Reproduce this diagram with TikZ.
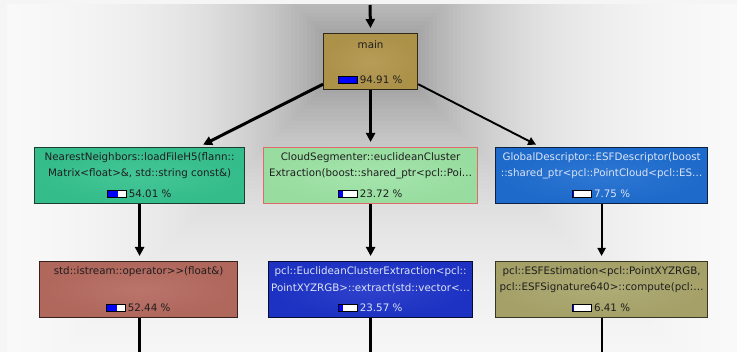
\documentclass[tikz,border=0pt]{standalone}
\usepackage{fontspec}
\setmainfont{DejaVu Sans}
\usetikzlibrary{arrows.meta,calc}
\definecolor{outerbg}{HTML}{F5F5F5}
\definecolor{mainfill}{HTML}{B1954B}
\definecolor{mainline}{HTML}{2E2616}
\definecolor{nnfill}{HTML}{36C28F}
\definecolor{nnline}{HTML}{1A3F32}
\definecolor{cloudfill}{HTML}{9DE3A5}
\definecolor{cloudline}{HTML}{E06A6A}
\definecolor{globfill}{HTML}{1E6DD0}
\definecolor{globline}{HTML}{0E2240}
\definecolor{istrfill}{HTML}{B56A5F}
\definecolor{istrline}{HTML}{38201C}
\definecolor{pclfill}{HTML}{1E33C8}
\definecolor{pclline}{HTML}{080C30}
\definecolor{esffill}{HTML}{A9A56B}
\definecolor{esfline}{HTML}{383620}
\definecolor{darktext}{HTML}{1E1E1E}
\definecolor{lighttext}{HTML}{DCE4F5}
\definecolor{barblue}{HTML}{0000FF}
\newcommand\pctbar[2]{%
  \fill[white] ($(#1.west)+(-21,-3.5)$) rectangle ($(#1.west)+(-2,3.5)$);
  \fill[barblue] ($(#1.west)+(-21,-3.5)$) rectangle ($(#1.west)+(-21+19*#2,3.5)$);
  \draw[line width=1pt,black] ($(#1.west)+(-21,-3.5)$) rectangle ($(#1.west)+(-2,3.5)$);
}
\begin{document}
\begin{tikzpicture}[x=1pt,y=-1pt,
  fbox/.style={draw,line width=1.2pt,anchor=north west,inner sep=0pt,minimum height=56pt},
  boxcol/.style 2 args={inner color=#1!93!white,outer color=#1!97!black,draw=#2},
  lbl/.style={inner sep=0pt,anchor=center,font=\fontsize{10.3}{12}\selectfont},
  pct/.style={inner sep=0pt,anchor=center,font=\fontsize{10.3}{12}\selectfont},
  edgeA/.style={line width=3pt,shorten >=5pt,-{Triangle[length=9pt,width=9pt]}},
  edgeB/.style={line width=2.7pt,shorten >=5pt,-{Triangle[length=9pt,width=9pt]}},
  edgeC/.style={line width=1.9pt,shorten >=5pt,-{Triangle[length=8pt,width=8pt]}},
  lineA/.style={line width=3pt},
  lineB/.style={line width=2.7pt},
  lineC/.style={line width=1.9pt}]
\useasboundingbox (0,0) rectangle (737,352);
\fill[outerbg] (0,0) rectangle (737,352);
\begin{scope}
\clip (7,5) rectangle (737,352);
\foreach \k in {90,89,...,0}{
  \pgfmathsetmacro\dd{4*\k}
  \pgfmathsetmacro\gg{1-0.36*exp(-\dd/115)}
  \definecolor{bgc}{gray}{\gg}
  \fill[bgc] (323-\dd,33-\dd) rectangle (417+\dd,89+\dd);
}
\end{scope}

% boxes
\node[fbox,boxcol={mainfill}{mainline},minimum width=94pt] (main) at (323,33) {};
\node[fbox,boxcol={nnfill}{nnline},minimum width=210pt] (nn) at (34,147) {};
\node[fbox,boxcol={cloudfill}{cloudline},minimum width=214pt] (cloud) at (263,147) {};
\node[fbox,boxcol={globfill}{globline},minimum width=212pt] (glob) at (495,147) {};
\node[fbox,boxcol={istrfill}{istrline},minimum width=198pt] (istr) at (39,261) {};
\node[fbox,boxcol={pclfill}{pclline},minimum width=204pt] (pcl) at (268,261) {};
\node[fbox,boxcol={esffill}{esfline},minimum width=212pt] (esf) at (495,261) {};

% texts
\node[lbl,text=darktext] (mainT) at ($(main.north)+(0,12)$) {main};
\node[lbl,text=darktext] (nnT1) at ($(nn.north)+(0,11)$) {NearestNeighbors::loadFileH5(flann::};
\node[lbl,text=darktext] (nnT2) at ($(nn.north)+(0,27)$) {Matrix<float>\&, std::string const\&)};
\node[lbl,text=darktext] (clT1) at ($(cloud.north)+(0,11)$) {CloudSegmenter::euclideanCluster};
\node[lbl,text=darktext] (clT2) at ($(cloud.north)+(0,27)$) {Extraction(boost::shared\_ptr<pcl::Poi…};
\node[lbl,text=lighttext] (glT1) at ($(glob.north)+(0,11)$) {GlobalDescriptor::ESFDescriptor(boost};
\node[lbl,text=lighttext] (glT2) at ($(glob.north)+(0,27)$) {::shared\_ptr<pcl::PointCloud<pcl::ES…};
\node[lbl,text=darktext] (isT1) at ($(istr.north)+(0,11)$) {std::istream::operator>{}>(float\&)};
\node[lbl,text=lighttext] (pcT1) at ($(pcl.north)+(0,11)$) {pcl::EuclideanClusterExtraction<pcl::};
\node[lbl,text=lighttext] (pcT2) at ($(pcl.north)+(0,27)$) {PointXYZRGB>::extract(std::vector<…};
\node[lbl,text=darktext] (esT1) at ($(esf.north)+(0,11)$) {pcl::ESFEstimation<pcl::PointXYZRGB,};
\node[lbl,text=darktext] (esT2) at ($(esf.north)+(0,27)$) {pcl::ESFSignature640>::compute(pcl:…};

% percentages
\node[pct,text=darktext] (mainP) at ($(main.south)+(10.5,-10)$) {94.91 \%};
\node[pct,text=darktext] (nnP) at ($(nn.south)+(10.5,-10)$) {54.01 \%};
\node[pct,text=darktext] (clP) at ($(cloud.south)+(10.5,-10)$) {23.72 \%};
\node[pct,text=lighttext] (glP) at ($(glob.south)+(10.5,-10)$) {7.75 \%};
\node[pct,text=darktext] (isP) at ($(istr.south)+(10.5,-10)$) {52.44 \%};
\node[pct,text=lighttext] (pcP) at ($(pcl.south)+(10.5,-10)$) {23.57 \%};
\node[pct,text=darktext] (esP) at ($(esf.south)+(10.5,-10)$) {6.41 \%};
\pctbar{mainP}{0.9491}
\pctbar{nnP}{0.5401}
\pctbar{clP}{0.2372}
\pctbar{glP}{0.0775}
\pctbar{isP}{0.5244}
\pctbar{pcP}{0.2357}
\pctbar{esP}{0.0641}

% connectors
\coordinate (top) at (370,5);
\coordinate (bot) at (370,352);
\draw[edgeA] (top) -- (main.north);
\draw[edgeA] ([yshift=6pt]main.south west) -- ([xshift=59pt]nn.north);
\draw[edgeB] (main.south) -- (cloud.north);
\draw[edgeC] ([yshift=6pt]main.south east) -- ([xshift=-61pt]glob.north);
\draw[edgeA] (nn.south) -- (istr.north -| nn.south);
\draw[edgeB] (cloud.south) -- (pcl.north);
\draw[edgeC] (glob.south) -- (esf.north);
\draw[lineA] (istr.south -| nn.south) -- (bot -| nn.south);
\draw[lineB] (pcl.south) -- (bot -| pcl.south);
\draw[lineC] (esf.south) -- (bot -| esf.south);
\end{tikzpicture}
\end{document}
